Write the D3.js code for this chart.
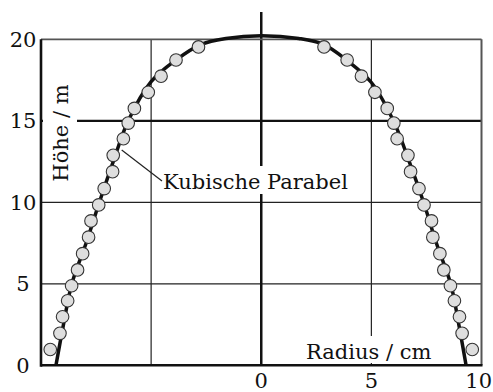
<!DOCTYPE html>
<html>
<head>
<meta charset="utf-8">
<script src="https://cdn.jsdelivr.net/npm/d3@7"></script>
<style>
  body { margin: 0; background: #fff; }
  text { font-family: "DejaVu Serif", serif; fill: #111; }
</style>
</head>
<body>
<script>
// measured points (height in m, radius in cm)
const heights = [0.97, 1.96, 2.98, 3.96, 4.88, 5.85, 6.85, 7.86, 8.86, 9.84,
                 10.84, 11.88, 12.88, 13.9, 14.86, 15.76, 16.75, 17.74, 18.73, 19.53];
const leftRadius = [-9.58, -9.14, -9.02, -8.79, -8.61, -8.34, -8.11, -7.84, -7.73, -7.38,
                    -7.13, -6.75, -6.72, -6.26, -6.04, -5.76, -5.13, -4.55, -3.87, -2.85];
const rightRadius = [9.58, 9.12, 9.0, 8.77, 8.59, 8.29, 8.11, 7.79, 7.73, 7.39,
                     7.16, 6.78, 6.66, 6.17, 6.02, 5.72, 5.16, 4.55, 3.9, 2.85];

// fitted cubic parabola
const curveRadius = [-9.32, -8.98, -8.6, -7.95, -7.35, -6.72, -6.04, -5.0, -3.9, -2.7, -1.6, 0,
                     1.7, 2.8, 3.9, 5.0, 6.0, 6.72, 7.37, 7.95, 8.6, 8.97, 9.3];
const curveHeight = [0, 2.5, 5, 7.5, 10, 12.5, 15, 17.4, 18.7, 19.7, 20.05, 20.22,
                     20.05, 19.7, 18.7, 17.35, 15, 12.5, 10, 7.5, 5, 2.5, 0];

const xTicks = [0, 5, 10];
const yTicks = [0, 5, 10, 15, 20];

const w = 493, h = 392;
const margin = {top: 39.3, right: 11.5, bottom: 26.7, left: 41};

const svg = d3.select("body").append("svg")
  .attr("width", w)
  .attr("height", h);

const x = d3.scaleLinear().domain([-10, 10]).range([margin.left, w - margin.right]);
const y = d3.scaleLinear().domain([0, 20]).range([h - margin.bottom, margin.top]);

// thin grid
svg.append("g").selectAll("line").data([-5, 5]).join("line")
  .attr("x1", d => x(d)).attr("x2", d => x(d))
  .attr("y1", y(0)).attr("y2", y(20))
  .attr("stroke", "#222").attr("stroke-width", 1.2);
svg.append("g").selectAll("line").data([5, 10]).join("line")
  .attr("x1", x(-10)).attr("x2", x(10))
  .attr("y1", d => y(d)).attr("y2", d => y(d))
  .attr("stroke", "#222").attr("stroke-width", 1.2);

// heavy cross lines
svg.append("line")
  .attr("x1", x(0)).attr("x2", x(0))
  .attr("y1", 12).attr("y2", y(0))
  .attr("stroke", "#111").attr("stroke-width", 2.5);
svg.append("line")
  .attr("x1", x(-10)).attr("x2", x(10))
  .attr("y1", y(15)).attr("y2", y(15))
  .attr("stroke", "#111").attr("stroke-width", 2.2);

// frame
svg.append("line").attr("x1", x(-10)).attr("x2", x(10)).attr("y1", y(20)).attr("y2", y(20))
  .attr("stroke", "#555").attr("stroke-width", 1.8);
svg.append("line").attr("x1", x(10)).attr("x2", x(10)).attr("y1", y(20)).attr("y2", y(0))
  .attr("stroke", "#555").attr("stroke-width", 2);
svg.append("line").attr("x1", x(-10)).attr("x2", x(-10)).attr("y1", y(20)).attr("y2", y(0) + 1.5)
  .attr("stroke", "#111").attr("stroke-width", 2.6);
svg.append("line").attr("x1", x(-10)).attr("x2", x(10) + 1).attr("y1", y(0)).attr("y2", y(0))
  .attr("stroke", "#111").attr("stroke-width", 2.6);

// white boxes behind labels
svg.append("rect").attr("x", 43).attr("y", 84).attr("width", 34).attr("height", 100).attr("fill", "#fff");
svg.append("rect").attr("x", 160).attr("y", 166).attr("width", 194).attr("height", 28).attr("fill", "#fff");
svg.append("rect").attr("x", 302).attr("y", 336).attr("width", 132).attr("height", 27).attr("fill", "#fff");

// curve
const line = d3.line()
  .x(d => x(d[0]))
  .y(d => y(d[1]))
  .curve(d3.curveCatmullRom.alpha(0.5));
svg.append("path")
  .datum(d3.zip(curveRadius, curveHeight))
  .attr("d", line)
  .attr("fill", "none")
  .attr("stroke", "#111")
  .attr("stroke-width", 3.5);

// points
const pts = d3.zip(leftRadius, heights).concat(d3.zip(rightRadius, heights));
svg.append("g").selectAll("circle").data(pts).join("circle")
  .attr("cx", d => x(d[0]))
  .attr("cy", d => y(d[1]))
  .attr("r", 6.3)
  .attr("fill", "#dedede")
  .attr("stroke", "#333")
  .attr("stroke-width", 1.1);

// tick labels (last one pulled in so it stays inside the page)
svg.append("g").selectAll("text").data(xTicks).join("text")
  .attr("x", d => d === 10 ? w - 1 : x(d)).attr("y", 388)
  .attr("text-anchor", d => d === 10 ? "end" : "middle")
  .attr("font-size", 21)
  .text(d => d);
svg.append("g").selectAll("text").data(yTicks).join("text")
  .attr("x", 23).attr("y", d => y(d) + 7.5)
  .attr("text-anchor", "middle")
  .attr("font-size", 21)
  .text(d => d);

// axis titles
svg.append("text")
  .attr("transform", "translate(68,133) rotate(-90)")
  .attr("text-anchor", "middle")
  .attr("font-size", 21)
  .text("Höhe / m");
svg.append("text")
  .attr("x", 306).attr("y", 358.5)
  .attr("font-size", 21)
  .text("Radius / cm");

// annotation
svg.append("line")
  .attr("x1", 121.7).attr("y1", 150)
  .attr("x2", 162).attr("y2", 181)
  .attr("stroke", "#222").attr("stroke-width", 1.2);
svg.append("text")
  .attr("x", 163).attr("y", 189)
  .attr("font-size", 21)
  .text("Kubische Parabel");
</script>
</body>
</html>
